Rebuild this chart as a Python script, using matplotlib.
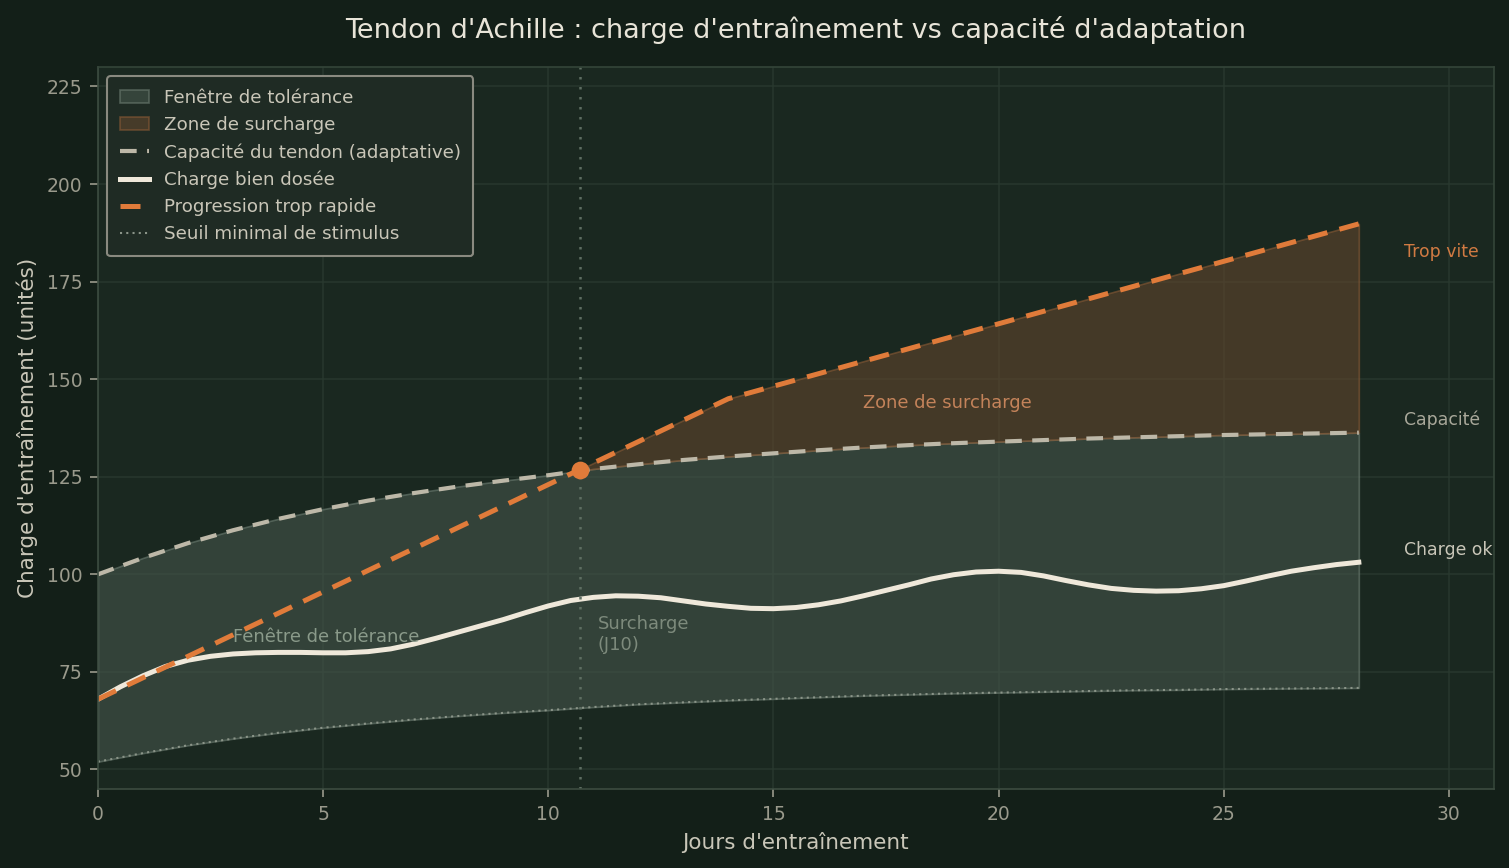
"""
Achilles tendon: training load vs adaptive capacity.
"""
import matplotlib
matplotlib.use("Agg")
import matplotlib.pyplot as plt

# Data ---------------------------------
days = list(range(0, 29))

capacity = [100.0, 104.2, 108.0, 111.3, 114.2, 116.7, 118.9, 120.8, 122.5, 124.0,
            125.4, 127.0, 128.2, 129.3, 130.2, 131.0, 131.8, 132.5, 133.1, 133.6,
            134.0, 134.4, 134.8, 135.1, 135.4, 135.7, 135.9, 136.1, 136.3]

threshold = [52.0, 54.2, 56.2, 57.9, 59.4, 60.7, 61.8, 62.8, 63.7, 64.5,
             65.2, 66.0, 66.7, 67.2, 67.7, 68.1, 68.5, 68.9, 69.2, 69.5,
             69.7, 69.9, 70.1, 70.3, 70.4, 70.6, 70.7, 70.8, 70.9]

fast = [68.0, 73.5, 79.0, 84.5, 90.0, 95.5, 101.0, 106.5, 112.0, 117.5,
        123.0, 128.5, 134.0, 139.5, 145.0, 148.2, 151.4, 154.6, 157.8, 161.0,
        164.2, 167.4, 170.6, 173.8, 177.0, 180.2, 183.4, 186.6, 189.8]

# well-dosed load, read every half day
half_days = [i / 2 for i in range(0, 57)]
charge_ok = [68.0, 71.2, 74.0, 76.4, 78.0, 79.0, 79.6, 79.9, 80.0, 80.0,
             79.9, 79.9, 80.2, 80.9, 82.1, 83.6, 85.2, 86.8, 88.4, 90.2,
             91.9, 93.3, 94.1, 94.5, 94.4, 94.0, 93.2, 92.4, 91.8, 91.3,
             91.2, 91.5, 92.2, 93.2, 94.5, 95.9, 97.3, 98.8, 99.9, 100.6,
             100.8, 100.5, 99.6, 98.4, 97.3, 96.4, 95.9, 95.7, 95.8, 96.3,
             97.1, 98.3, 99.6, 100.8, 101.7, 102.5, 103.1]

overload_day = 10.7
overload_value = 126.7

# Colours ------------------------------
BG_FIG = "#131f18"
BG_AX = "#1a2820"
GRID = "#2a3a30"
TXT = "#c9c6b8"
TICK = "#9a9a8c"
ORANGE = "#e07b3a"

fig = plt.figure(figsize=(10.06, 5.787), dpi=150, facecolor=BG_FIG)
ax = fig.add_axes([0.0649, 0.091, 0.9251, 0.8318])
ax.set_facecolor(BG_AX)

# Zones
ax.fill_between(days, threshold, capacity, facecolor="#44554b", alpha=0.6,
                edgecolor="#6d7d72", linewidth=0.8, label="Fenêtre de tolérance")
ax.fill_between(days, capacity, fast, where=[f >= c for f, c in zip(fast, capacity)],
                interpolate=True, facecolor="#61462d", alpha=0.6,
                edgecolor="#8a5a35", linewidth=0.8, label="Zone de surcharge")

# Curves
ax.plot(days, capacity, color="#bdb8a8", lw=2.0, ls=(0, (4, 2.5)),
        label="Capacité du tendon (adaptative)")
ax.plot(half_days, charge_ok, color="#efe8da", lw=2.4, label="Charge bien dosée")
ax.plot(days, fast, color=ORANGE, lw=2.4, ls=(0, (4, 2.5)), label="Progression trop rapide")
ax.plot(days, threshold, color="#8a9488", lw=1.0, ls=(0, (1, 2)),
        label="Seuil minimal de stimulus")

ax.axvline(overload_day, color="#5e6e62", lw=1.2, ls=(0, (1, 3)))
ax.plot([overload_day], [overload_value], "o", color=ORANGE, markersize=7.5, zorder=5)

# Annotations
ax.text(3, 84, "Fenêtre de tolérance", color="#8a9a8a", fontsize=8.6, va="center")
ax.text(17, 144, "Zone de surcharge", color="#c4835a", fontsize=8.6, va="center")
ax.text(11.1, 84.5, "Surcharge\n(J10)", color="#7d8a7c", fontsize=8.6, va="center",
        linespacing=1.2)
ax.text(29, 182.5, "Trop vite", color="#d07a42", fontsize=8.3, va="center")
ax.text(29, 139.5, "Capacité", color="#a9a89a", fontsize=8.3, va="center")
ax.text(29, 106.3, "Charge ok", color=TXT, fontsize=8.3, va="center")

# Axes styling
ax.set_xlim(0, 31)
ax.set_ylim(45, 230)
ax.set_xticks([0, 5, 10, 15, 20, 25, 30])
ax.set_yticks([50, 75, 100, 125, 150, 175, 200, 225])
ax.grid(True, color=GRID, lw=0.8, alpha=0.8)
ax.set_axisbelow(True)
ax.tick_params(colors=TICK, labelsize=9, length=4)
for sp in ax.spines.values():
    sp.set_color("#344539")
ax.spines["left"].set_color("#3c4c40")
ax.spines["bottom"].set_color("#3c4c40")

ax.set_xlabel("Jours d'entraînement", color=TXT, fontsize=10.3)
ax.set_ylabel("Charge d'entraînement (unités)", color=TXT, fontsize=10.3)
ax.set_title("Tendon d'Achille : charge d'entraînement vs capacité d'adaptation",
             color="#e8e4d8", fontsize=13, pad=14)

leg = ax.legend(loc="upper left", fontsize=8.75, facecolor="#1f2b24", edgecolor="#8a8a80",
                framealpha=1.0, labelcolor=TXT, borderpad=0.7, handlelength=1.6)
leg.get_frame().set_linewidth(1.0)

fig.savefig("out.png", dpi=150, facecolor=BG_FIG)
